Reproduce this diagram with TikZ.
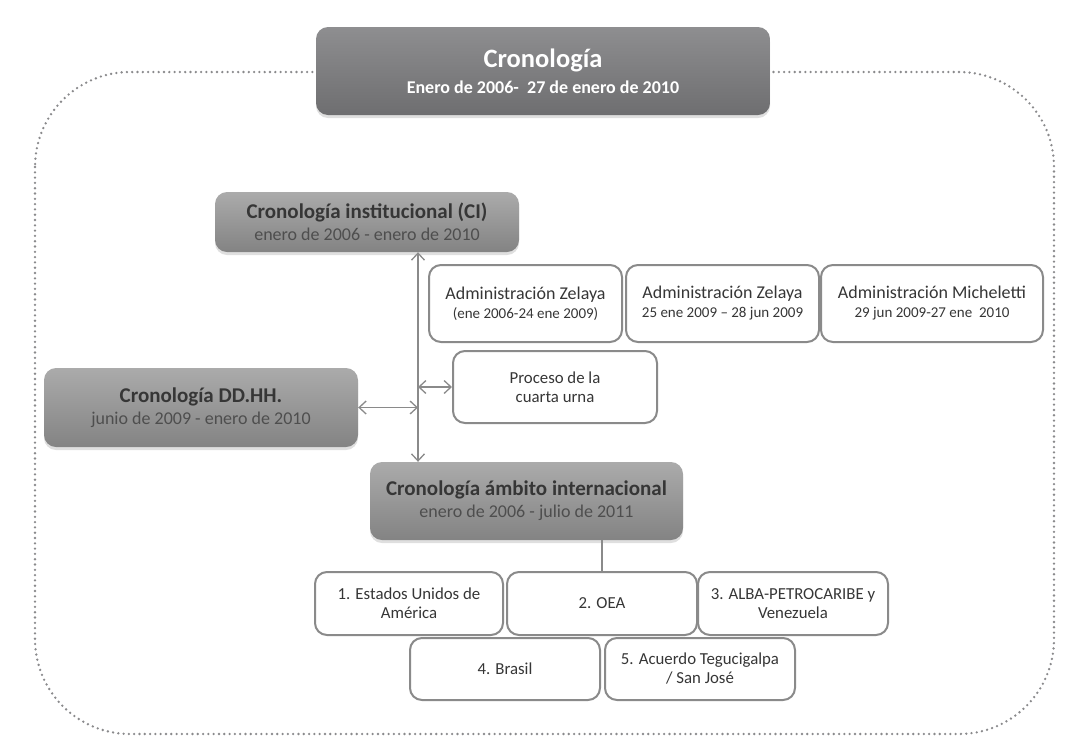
\documentclass[tikz,border=0pt]{standalone}
\usepackage{fontspec}
\setmainfont{Carlito}
\usetikzlibrary{arrows.meta,shadows}

\definecolor{headtop}{HTML}{8E8E90}
\definecolor{headbot}{HTML}{6E6E70}
\definecolor{subtop}{HTML}{ABABAB}
\definecolor{subbot}{HTML}{838383}
\definecolor{inktext}{HTML}{363636}
\definecolor{softtext}{HTML}{4E4E4E}
\definecolor{rimgray}{HTML}{8A8A8A}
\definecolor{dotgray}{HTML}{8A8A8C}

\tikzset{
  >={Straight Barb[length=7pt,width=13pt]},
  roundbox/.style={rounded corners=12pt, align=center, inner sep=0pt},
  headbox/.style={roundbox, top color=headtop, bottom color=headbot, text=white,
    font=\fontsize{18}{26}\selectfont\bfseries,
    drop shadow={shadow xshift=0pt, shadow yshift=-3pt, opacity=0.25}},
  chronobox/.style={roundbox, top color=subtop, bottom color=subbot, text=inktext,
    font=\fontsize{18}{22}\selectfont,
    drop shadow={shadow xshift=0pt, shadow yshift=-3pt, opacity=0.25}},
  itembox/.style={roundbox, draw=rimgray, line width=2pt, fill=white, text=inktext,
    font=\fontsize{16.8}{19}\selectfont},
  link/.style={draw=rimgray, line width=1.3pt}
}

\newcommand{\boxhead}[1]{{\fontsize{21}{22}\selectfont\bfseries #1}}
\newcommand{\boxdates}[1]{{\color{softtext}#1}}
\newcommand{\adminname}[1]{{\fontsize{18}{20}\selectfont #1}}
\newcommand{\adminspan}[1]{{\fontsize{15}{20}\selectfont #1}}

\begin{document}
\begin{tikzpicture}[x=1pt,y=-1pt]
\useasboundingbox (0,0) rectangle (1069,745);
\draw [dotgray, line width=2.6pt, line cap=round, dash pattern=on 0pt off 5.3pt,
  rounded corners=95pt] (35,72) rectangle (1054,734);

\node [headbox, minimum width=454, minimum height=88] (chrono) at (543,71)
  {{\fontsize{26.5}{26}\selectfont Cronología}\\
   Enero de 2006-\ \ 27 de enero de 2010};
\node [chronobox, minimum width=304, minimum height=60] (ci) at (367,222)
  {\boxhead{Cronología institucional (CI)}\\\boxdates{enero de 2006 - enero de 2010}};
\node [chronobox, minimum width=314, minimum height=79] (ddhh) at (201,407.5)
  {\boxhead{Cronología DD.HH.}\\\boxdates{junio de 2009 - enero de 2010}};
\node [chronobox, minimum width=313, minimum height=78] (intl) at (526.5,501)
  {\boxhead{Cronología ámbito internacional}\\\boxdates{enero de 2006 - julio de 2011}};

\node [itembox, minimum width=193, minimum height=77] (zel1) at (525.5,303.5)
  {\adminname{Administración Zelaya}\\\adminspan{(ene 2006-24 ene 2009)}};
\node [itembox, minimum width=193, minimum height=77] (zel2) at (722.5,303.5)
  {\adminname{Administración Zelaya}\\\adminspan{25 ene 2009 – 28 jun 2009}};
\node [itembox, minimum width=222, minimum height=77] (mich) at (932,303.5)
  {\adminname{Administración Micheletti}\\\adminspan{29 jun 2009-27 ene\ \ 2010}};
\node [itembox, minimum width=204, minimum height=72] (urna) at (555,387)
  {Proceso de la\\cuarta urna};

\node [itembox, minimum width=188, minimum height=63] (usa) at (409,603.5) {1. Estados Unidos de\\América};
\node [itembox, minimum width=190, minimum height=63] (oea) at (602,603.5) {2. OEA};
\node [itembox, minimum width=190, minimum height=63] (alba) at (793,603.5) {3. ALBA-PETROCARIBE y\\Venezuela};
\node [itembox, minimum width=190, minimum height=62] (bra) at (505,669) {4. Brasil};
\node [itembox, minimum width=190, minimum height=62] (acuerdo) at (700,669) {5. Acuerdo Tegucigalpa\\/ San José};

\coordinate (axis) at (418,0);
\draw [link, <->] (ci.south -| axis) -- (intl.north -| axis);
\draw [link, <->] (ddhh.east) -- (ddhh.east -| axis);
\draw [link, <->] (axis |- urna.west) -- (urna.west);
\draw [link] (oea.north |- intl.south) -- (oea.north);
\end{tikzpicture}
\end{document}
